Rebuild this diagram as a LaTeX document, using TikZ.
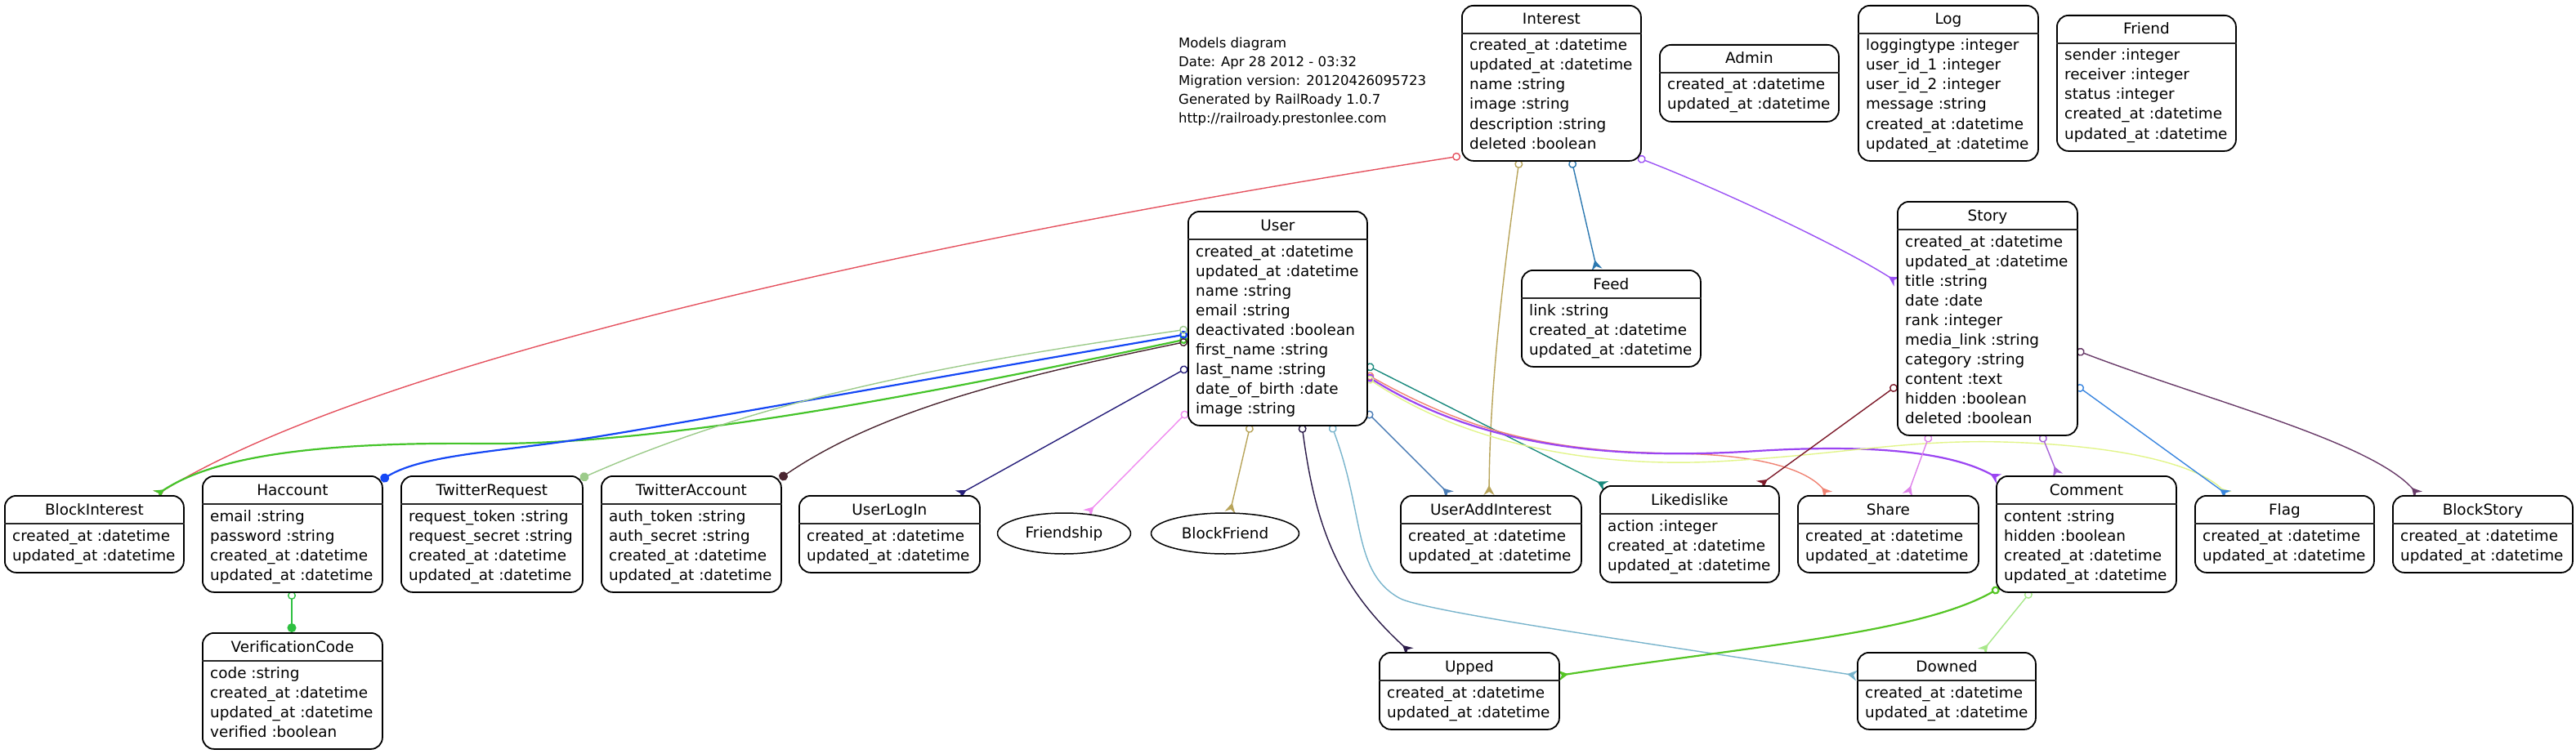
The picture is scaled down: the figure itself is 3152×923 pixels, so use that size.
\documentclass[tikz,border=0pt]{standalone}
\usepackage{fontspec}
\setmainfont{DejaVu Sans}
\usetikzlibrary{arrows.meta,shapes.geometric}
\pgfdeclarelayer{back}
\pgfdeclarelayer{edges}
\pgfsetlayers{back,edges,main}
\newcommand{\rowfont}{\fontsize{18.4}{24}\selectfont}
\newcommand{\legfont}{\fontsize{16.5}{22}\selectfont}
\definecolor{cRed}{HTML}{E5515E}
\definecolor{cTan}{HTML}{B8A45A}
\definecolor{cSteel}{HTML}{2C78B0}
\definecolor{cPurple}{HTML}{9B52F5}
\definecolor{cGreen}{HTML}{45C42A}
\definecolor{cBlue}{HTML}{1547F5}
\definecolor{cLtGreen}{HTML}{9CCB8A}
\definecolor{cBrown}{HTML}{4A2530}
\definecolor{cNavy}{HTML}{261E7A}
\definecolor{cViolet}{HTML}{F08CF0}
\definecolor{cDkPurple}{HTML}{2A1A48}
\definecolor{cLtBlue}{HTML}{78B4CC}
\definecolor{cSteelB}{HTML}{4A7CB5}
\definecolor{cTeal}{HTML}{18897D}
\definecolor{cSalmon}{HTML}{F08272}
\definecolor{cPurpleB}{HTML}{9B45F2}
\definecolor{cYellow}{HTML}{E2F58A}
\definecolor{cDkRed}{HTML}{7D1A2A}
\definecolor{cVioletB}{HTML}{DE82EA}
\definecolor{cMedPurple}{HTML}{A763D8}
\definecolor{cBlueB}{HTML}{3A86E0}
\definecolor{cPlum}{HTML}{683A68}
\definecolor{cGreenB}{HTML}{55C525}
\definecolor{cLtGreenB}{HTML}{A8E88A}
\definecolor{cGreenC}{HTML}{2EC040}
\tikzset{
  ent/.style={draw, fill=white, line width=1.8pt, rounded corners=14pt, inner sep=0pt},
  sepline/.style={line width=2.6pt, black!85},
  txt/.style={font=\rowfont, inner sep=0pt},
  legtxt/.style={font=\legfont, inner sep=0pt, anchor=base west},
  oval/.style={draw, fill=white, ellipse, line width=1.5pt, inner sep=0pt, font=\rowfont},
  many/.style={line width=1.4pt, {Circle[open,length=10pt,width=10pt]}-{Stealth[reversed,length=12pt,width=13pt,inset=4pt]}},
  one/.style={line width=1.4pt, {Circle[open,length=10pt,width=10pt]}-{Circle[length=11pt,width=11pt]}},
  thickline/.style={line width=2.2pt}
}
\newcommand{\entity}[7]{%
  \node[ent, minimum width=#4pt, minimum height={(46+24*#5)*1pt}, anchor=north west] (#1) at (#2,#3) {};
  \draw[sepline] ([yshift=-35pt]#1.north west) -- ([yshift=-35pt]#1.north east);
  \node[txt, anchor=base] (#1-t) at ([yshift=-24pt]#1.north) {#6};
  \foreach \rowtxt [count=\rowidx from 0] in {#7} {
    \node[txt, anchor=base west] (#1-r\rowidx) at ([shift={(10,56+24*\rowidx)}]#1.north west) {\rowtxt};
  }%
}
\begin{document}
\begin{tikzpicture}[x=1pt,y=-1pt]
\begin{pgfonlayer}{back}
\fill[white] (0,0) rectangle (3152,923);
\end{pgfonlayer}
\useasboundingbox (0,0) rectangle (3152,923);

\node[legtxt] (leg1) at (1442,59) {Models diagram};
\node[legtxt] (leg2) at (1442,81.75) {Date: Apr 28 2012 - 03:32};
\node[legtxt] (leg3) at (1442,104.5) {Migration version: 20120426095723};
\node[legtxt] (leg4) at (1442,127.25) {Generated by RailRoady 1.0.7};
\node[legtxt] (leg5) at (1442,150) {http://railroady.prestonlee.com};

\entity{Interest}{1788}{6}{219}{6}{Interest}{created\_at :datetime,updated\_at :datetime,name :string,image :string,description :string,deleted :boolean}
\entity{Admin}{2030}{54}{219}{2}{Admin}{created\_at :datetime,updated\_at :datetime}
\entity{Log}{2273}{6}{220}{6}{Log}{loggingtype :integer,user\_id\_1 :integer,user\_id\_2 :integer,message :string,created\_at :datetime,updated\_at :datetime}
\entity{Friend}{2516}{18}{219}{5}{Friend}{sender :integer,receiver :integer,status :integer,created\_at :datetime,updated\_at :datetime}
\entity{User}{1453}{258}{219}{9}{User}{created\_at :datetime,updated\_at :datetime,name :string,email :string,deactivated :boolean,first\_name :string,last\_name :string,date\_of\_birth :date,image :string}
\entity{Feed}{1861}{330}{219}{3}{Feed}{link :string,created\_at :datetime,updated\_at :datetime}
\entity{Story}{2321}{246}{220}{10}{Story}{created\_at :datetime,updated\_at :datetime,title :string,date :date,rank :integer,media\_link :string,category :string,content :text,hidden :boolean,deleted :boolean}
\entity{BlockInterest}{5}{606}{219}{2}{BlockInterest}{created\_at :datetime,updated\_at :datetime}
\entity{Haccount}{247}{582}{220}{4}{Haccount}{email :string,password :string,created\_at :datetime,updated\_at :datetime}
\entity{TwitterRequest}{490}{582}{222}{4}{TwitterRequest}{request\_token :string,request\_secret :string,created\_at :datetime,updated\_at :datetime}
\entity{TwitterAccount}{735}{582}{220}{4}{TwitterAccount}{auth\_token :string,auth\_secret :string,created\_at :datetime,updated\_at :datetime}
\entity{VerificationCode}{247}{774}{220}{4}{VerificationCode}{code :string,created\_at :datetime,updated\_at :datetime,verified :boolean}
\entity{UserLogIn}{977}{606}{221}{2}{UserLogIn}{created\_at :datetime,updated\_at :datetime}
\entity{UserAddInterest}{1713}{606}{221}{2}{UserAddInterest}{created\_at :datetime,updated\_at :datetime}
\entity{Likedislike}{1957}{594}{219}{3}{Likedislike}{action :integer,created\_at :datetime,updated\_at :datetime}
\entity{Upped}{1687}{798}{220}{2}{Upped}{created\_at :datetime,updated\_at :datetime}
\entity{Share}{2199}{606}{221}{2}{Share}{created\_at :datetime,updated\_at :datetime}
\entity{Comment}{2442}{582}{220}{4}{Comment}{content :string,hidden :boolean,created\_at :datetime,updated\_at :datetime}
\entity{Flag}{2685}{606}{219}{2}{Flag}{created\_at :datetime,updated\_at :datetime}
\entity{BlockStory}{2927}{606}{220}{2}{BlockStory}{created\_at :datetime,updated\_at :datetime}
\entity{Downed}{2272}{798}{218}{2}{Downed}{created\_at :datetime,updated\_at :datetime}

\node[oval, minimum width=163pt, minimum height=50pt] (Friendship) at (1302,653) {Friendship};
\node[oval, minimum width=181pt, minimum height=50pt] (BlockFriend) at (1499,653) {BlockFriend};

\begin{pgfonlayer}{edges}
\draw[many,cRed] ([shift={(-1,185)}]Interest.north west) .. controls (1150,290) and (460,440) .. ([shift={(186,0)}]BlockInterest.north west);
\draw[many,cTan] ([shift={(71,190)}]Interest.north west) .. controls (1840,330) and (1823,470) .. ([shift={(109,0)}]UserAddInterest.north west);
\draw[many,cSteel] ([shift={(135,190)}]Interest.north west) -- ([shift={(93,0)}]Feed.north west);
\draw[many,cPurple] ([shift={(216,187)}]Interest.north west) .. controls (2100,230) and (2250,300) .. ([shift={(0,99)}]Story.north west);
\draw[many,cGreen,thickline] ([shift={(0,157)}]User.north west) .. controls (1100,490) and (800,545) .. (590,543) .. controls (380,541) and (260,560) .. ([shift={(186,0)}]BlockInterest.north west);
\draw[one,cBlue,thickline] ([shift={(0,151)}]User.north west) .. controls (1100,470) and (850,515) .. (740,533) .. controls (620,553) and (520,555) .. ([shift={(219,6)}]Haccount.north west);
\draw[one,cLtGreen] ([shift={(0,145)}]User.north west) .. controls (1200,440) and (950,480) .. ([shift={(220,4)}]TwitterRequest.north west);
\draw[one,cBrown] ([shift={(0,160)}]User.north west) .. controls (1250,460) and (1080,500) .. ([shift={(219,4)}]TwitterAccount.north west);
\draw[many,cNavy] ([shift={(0,192)}]User.north west) -- ([shift={(195,0)}]UserLogIn.north west);
\draw[many,cViolet] ([shift={(0,246)}]User.north west) -- ([shift={(28,1.5)}]Friendship.north);
\draw[many,cTan] ([shift={(77,262)}]User.north west) -- ([shift={(6,0)}]BlockFriend.north);
\draw[many,cDkPurple] ([shift={(140,262)}]User.north west) .. controls (1610,650) and (1640,720) .. ([shift={(38,0)}]Upped.north west);
\draw[many,cLtBlue] ([shift={(176,262)}]User.north west) .. controls (1670,630) and (1655,700) .. (1712,732) .. controls (1740,748) and (2000,785) .. ([shift={(0,29)}]Downed.north west);
\draw[many,cSteelB] ([shift={(219,246)}]User.north west) -- ([shift={(61,0)}]UserAddInterest.north west);
\draw[many,cTeal] ([shift={(219,189)}]User.north west) -- ([shift={(8,1)}]Likedislike.north west);
\draw[many,cSalmon] ([shift={(219,200)}]User.north west) .. controls (1800,530) and (1900,553) .. (2050,555) .. controls (2170,557) and (2215,580) .. ([shift={(38,0)}]Share.north west);
\draw[many,cPurpleB,thickline] ([shift={(219,202)}]User.north west) .. controls (1800,540) and (1950,565) .. (2150,552) .. controls (2300,543) and (2390,555) .. ([shift={(4,4)}]Comment.north west);
\draw[many,cYellow] ([shift={(219,204)}]User.north west) .. controls (1800,548) and (1960,572) .. (2100,565) .. controls (2250,557) and (2330,538) .. (2450,541) .. controls (2600,545) and (2690,570) .. ([shift={(41,0)}]Flag.north west);
\draw[many,cDkRed] ([shift={(0,226)}]Story.north west) -- ([shift={(196,0)}]Likedislike.north west);
\draw[many,cVioletB] ([shift={(40,286)}]Story.north west) -- ([shift={(135,0)}]Share.north west);
\draw[many,cMedPurple] ([shift={(177,286)}]Story.north west) -- ([shift={(76,0)}]Comment.north west);
\draw[many,cBlueB] ([shift={(220,226)}]Story.north west) -- ([shift={(41,0)}]Flag.north west);
\draw[many,cPlum] ([shift={(220,183)}]Story.north west) .. controls (2700,490) and (2900,540) .. ([shift={(32,0)}]BlockStory.north west);
\draw[many,cGreenB,thickline] ([shift={(4,138)}]Comment.north west) .. controls (2350,775) and (2150,790) .. ([shift={(220,29)}]Upped.north west);
\draw[many,cLtGreenB] ([shift={(43,142)}]Comment.north west) -- ([shift={(153,0)}]Downed.north west);
\draw[one,cGreenC] ([shift={(110,142)}]Haccount.north west) -- ([shift={(110,0)}]VerificationCode.north west);
\end{pgfonlayer}
\end{tikzpicture}
\end{document}
